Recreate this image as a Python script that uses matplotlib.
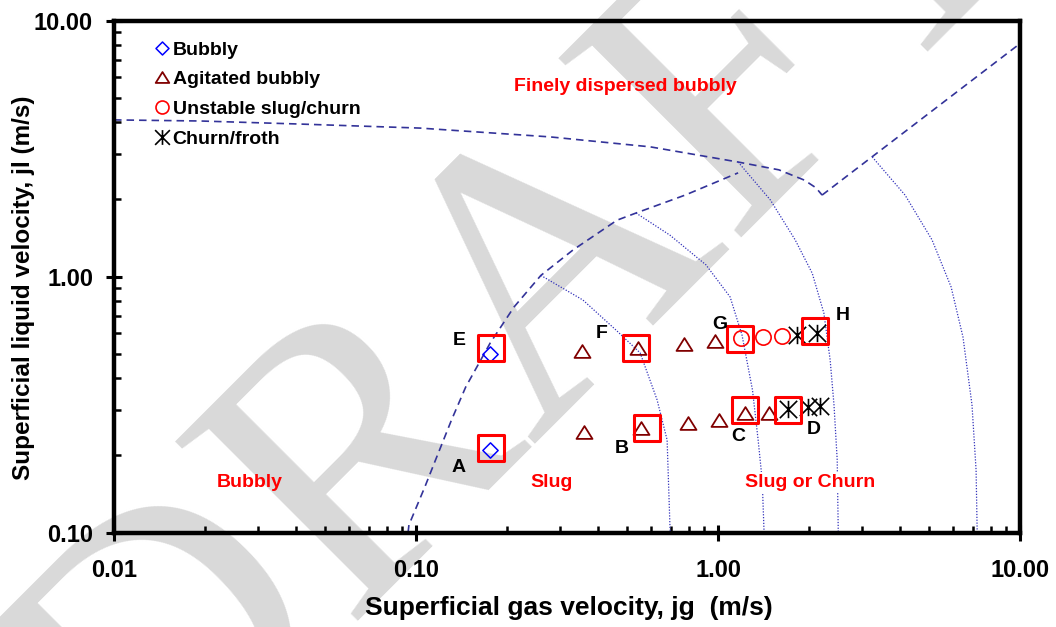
import matplotlib
matplotlib.use("Agg")
import matplotlib.pyplot as plt
from matplotlib.path import Path
from matplotlib.lines import Line2D
from matplotlib.ticker import LogLocator, FormatStrFormatter, NullFormatter

plt.rcParams["font.family"] = ["Liberation Sans", "DejaVu Sans"]
plt.rcParams["font.weight"] = "bold"

# ---------------- observed flow patterns ----------------
bubbly_jg = [0.176, 0.176]
bubbly_jl = [0.50, 0.21]

agitated_jg = [0.353, 0.542, 0.771, 0.977, 0.359, 0.555, 0.795, 1.008, 1.23, 1.47]
agitated_jl = [0.514, 0.528, 0.547, 0.562, 0.246, 0.257, 0.267, 0.274, 0.292, 0.292]

unstable_jg = [1.19, 1.41, 1.63]
unstable_jl = [0.573, 0.578, 0.583]

churn_jg = [1.83, 2.12, 1.71, 1.98, 2.18]
churn_jl = [0.593, 0.599, 0.305, 0.308, 0.311]

# highlighted test conditions
point_names = ["A", "B", "C", "D", "E", "F", "G", "H"]
point_jg = [0.177, 0.580, 1.23, 1.71, 0.177, 0.534, 1.18, 2.10]
point_jl = [0.213, 0.255, 0.300, 0.300, 0.528, 0.528, 0.568, 0.615]

# ---------------- transition boundaries ----------------
# bubbly / slug  ->  finely dispersed bubbly
fd_jg = [0.01, 0.0193, 0.0413, 0.103, 0.278, 0.596, 1.165, 1.59, 1.93, 2.11, 2.21]
fd_jl = [4.09, 4.05, 3.94, 3.80, 3.51, 3.21, 2.80, 2.61, 2.38, 2.22, 2.08]
# churn  ->  finely dispersed bubbly
fd2_jg = [2.21, 9.85]
fd2_jl = [2.08, 8.02]
# bubbly  ->  slug
bs_jg = [0.0941, 0.0947, 0.107, 0.116, 0.131, 0.146, 0.176, 0.211, 0.259,
         0.331, 0.463, 0.535, 0.778, 1.165]
bs_jl = [0.100, 0.107, 0.151, 0.192, 0.275, 0.370, 0.550, 0.760, 1.01,
         1.27, 1.66, 1.77, 2.08, 2.54]
# slug  ->  churn (different entrance lengths)
sc1_jg = [0.259, 0.357, 0.459, 0.552, 0.628, 0.678, 0.693, 0.695]
sc1_jl = [1.01, 0.809, 0.618, 0.503, 0.330, 0.230, 0.105, 0.100]
sc2_jg = [0.535, 0.693, 0.912, 1.096, 1.20, 1.30, 1.357, 1.40, 1.42]
sc2_jl = [1.77, 1.45, 1.11, 0.832, 0.591, 0.360, 0.230, 0.160, 0.100]
sc3_jg = [1.165, 1.49, 1.80, 2.05, 2.24, 2.35, 2.42, 2.48, 2.50]
sc3_jl = [2.80, 1.99, 1.39, 1.03, 0.720, 0.472, 0.315, 0.192, 0.100]
sc4_jg = [3.24, 4.16, 5.11, 5.91, 6.47, 6.93, 7.15, 7.21]
sc4_jl = [2.93, 2.08, 1.39, 0.910, 0.580, 0.315, 0.175, 0.100]

# regime names
regime_names = ["Finely dispersed bubbly", "Bubbly", "Slug", "Slug or Churn"]
regime_jg = [0.492, 0.0282, 0.280, 2.02]
regime_jl = [5.30, 0.151, 0.151, 0.151]

# ---------------- marker shapes ----------------
tri_marker = Path([(-1, -0.8), (1, -0.8), (0, 0.8), (-1, -0.8)],
                  [Path.MOVETO, Path.LINETO, Path.LINETO, Path.CLOSEPOLY])
dia_marker = Path([(0, 1), (1, 0), (0, -1), (-1, 0), (0, 1)],
                  [Path.MOVETO, Path.LINETO, Path.LINETO, Path.LINETO, Path.CLOSEPOLY])
ast_marker = Path([(0, -1), (0, 1), (-1, -1), (1, 1), (-1, 1), (1, -1)],
                  [Path.MOVETO, Path.LINETO, Path.MOVETO, Path.LINETO, Path.MOVETO, Path.LINETO])
box_marker = Path([(-1, -1), (1, -1), (1, 1), (-1, 1), (-1, -1)],
                  [Path.MOVETO, Path.LINETO, Path.LINETO, Path.LINETO, Path.CLOSEPOLY])

dash_col = "#333399"
dot_col = "#3333bb"

fig = plt.figure(figsize=(10.56, 6.27), dpi=100)
fig.patch.set_facecolor("white")

# watermark
fig.text(0.1383, -0.3094, "DRAFT", fontsize=281, family="Liberation Serif",
         fontweight="normal", color="#d9d9d9", rotation=45,
         rotation_mode="anchor", ha="left", va="baseline", zorder=0)

ax = fig.add_axes([0.1080, 0.1507, 0.8580, 0.8166], zorder=1)
ax.set_facecolor("none")
ax.set_xscale("log")
ax.set_yscale("log")
ax.set_xlim(0.01, 10)
ax.set_ylim(0.1, 10)

# boundaries
for xs, ys in [(fd_jg, fd_jl), (fd2_jg, fd2_jl), (bs_jg, bs_jl)]:
    ax.plot(xs, ys, color=dash_col, lw=1.2, dashes=(4.5, 3), zorder=2)
for xs, ys in [(sc1_jg, sc1_jl), (sc2_jg, sc2_jl), (sc3_jg, sc3_jl), (sc4_jg, sc4_jl)]:
    ax.plot(xs, ys, color=dot_col, lw=0.9, ls=(0, (1, 1.3)), zorder=2)

# regime names
for name, x, y in zip(regime_names, regime_jg, regime_jl):
    kw = {}
    if name == "Slug or Churn":
        kw["bbox"] = dict(facecolor="white", edgecolor="none", pad=1.5)
    ax.text(x, y, name, color="#ff0000", fontsize=14, fontweight="bold",
            ha="center", va="baseline", zorder=3, **kw)

# data
ax.plot(bubbly_jg, bubbly_jl, ls="none", marker=dia_marker, ms=11, mfc="none",
        mec="#0000ff", mew=1.1, zorder=5)
ax.plot(agitated_jg, agitated_jl, ls="none", marker=tri_marker, ms=11.5, mfc="none",
        mec="#800000", mew=1.3, zorder=5)
ax.plot(unstable_jg, unstable_jl, ls="none", marker="o", ms=11, mfc="none",
        mec="#ff0000", mew=1.2, zorder=5)
ax.plot(churn_jg, churn_jl, ls="none", marker=ast_marker, ms=12.5, mfc="none",
        mec="black", mew=1.2, zorder=5)

# highlighted points
ax.plot(point_jg, point_jl, ls="none", marker=box_marker, ms=18.7, mfc="none",
        mec="#ff0000", mew=2.2, zorder=6)
label_offsets = {"A": (-23, -13.7), "B": (-18, -14.4), "C": (-5, -18.7),
                 "D": (18, -13.7), "E": (-23, 5), "F": (-24.5, 10),
                 "G": (-14.4, 10.8), "H": (19.4, 10.8)}
for name, x, y in zip(point_names, point_jg, point_jl):
    ax.annotate(name, (x, y), xytext=label_offsets[name], textcoords="offset points",
                ha="center", va="center", fontsize=14, fontweight="bold", zorder=7)

# axes styling
for sp in ax.spines.values():
    sp.set_linewidth(3.2)
ax.xaxis.set_major_locator(LogLocator(base=10, numticks=10))
ax.yaxis.set_major_locator(LogLocator(base=10, numticks=10))
ax.xaxis.set_minor_locator(LogLocator(base=10, subs=range(2, 10), numticks=20))
ax.yaxis.set_minor_locator(LogLocator(base=10, subs=range(2, 10), numticks=20))
ax.xaxis.set_major_formatter(FormatStrFormatter("%.2f"))
ax.yaxis.set_major_formatter(FormatStrFormatter("%.2f"))
ax.xaxis.set_minor_formatter(NullFormatter())
ax.yaxis.set_minor_formatter(NullFormatter())
ax.tick_params(which="major", direction="inout", length=11.5, width=2.2, labelsize=17)
ax.tick_params(which="minor", direction="in", length=5, width=1.8)
ax.tick_params(axis="x", which="major", pad=13)
ax.tick_params(axis="y", which="major", pad=9.4)
for lab in ax.get_xticklabels() + ax.get_yticklabels():
    lab.set_fontweight("bold")

ax.set_xlabel("Superficial gas velocity, jg  (m/s)", fontsize=19, fontweight="bold")
ax.set_ylabel("Superficial liquid velocity, jl (m/s)", fontsize=17.5, fontweight="bold")
ax.xaxis.set_label_coords(0.502, -0.124)
ax.yaxis.set_label_coords(-0.0872, 0.478)

handles = [
    Line2D([], [], ls="none", marker=dia_marker, ms=11, mfc="none", mec="#0000ff",
           mew=1.1, label="Bubbly"),
    Line2D([], [], ls="none", marker=tri_marker, ms=11.5, mfc="none", mec="#800000",
           mew=1.3, label="Agitated bubbly"),
    Line2D([], [], ls="none", marker="o", ms=11, mfc="none", mec="#ff0000",
           mew=1.2, label="Unstable slug/churn"),
    Line2D([], [], ls="none", marker=ast_marker, ms=12.5, mfc="none", mec="black",
           mew=1.2, label="Churn/froth"),
]
ax.legend(handles=handles, loc="upper left", bbox_to_anchor=(0.0442, 0.960),
          frameon=False, prop={"size": 14, "weight": "bold"}, handlelength=0.8,
          handletextpad=0.15, labelspacing=0.62, borderpad=0, borderaxespad=0,
          markerscale=0.85)

fig.savefig("out.png", dpi=100)
